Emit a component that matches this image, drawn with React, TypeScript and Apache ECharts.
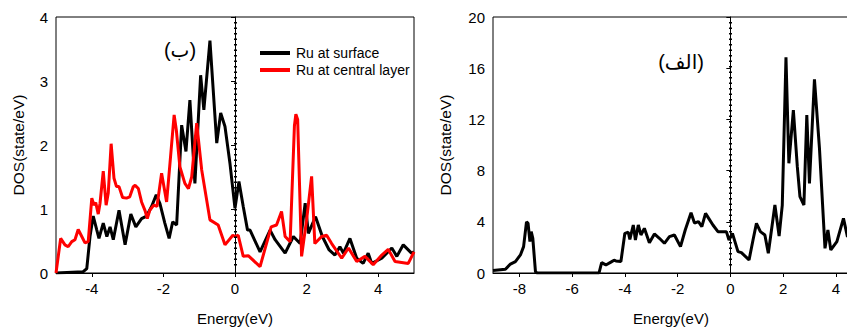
import React, { useEffect, useRef } from "react";
import * as echarts from "echarts";

// Left panel (ب): Ru DOS
const surfaceDOS: [number, number][] = [
  [-5, 0], [-4.24, 0.02], [-4.14, 0.07], [-4.05, 0.57], [-3.96, 0.89], [-3.86, 0.67], [-3.8, 0.54],
  [-3.68, 0.78], [-3.58, 0.57], [-3.49, 0.72], [-3.4, 0.52], [-3.24, 0.98], [-3.07, 0.44], [-2.91, 0.92],
  [-2.77, 0.72], [-2.61, 0.85], [-2.47, 0.89], [-2.33, 1.04], [-2.2, 1.22], [-2.1, 1.09], [-1.96, 0.78],
  [-1.84, 0.54], [-1.74, 0.8], [-1.63, 0.75], [-1.49, 2.31], [-1.37, 1.9], [-1.26, 2.7], [-1.12, 1.4],
  [-0.96, 3.09], [-0.87, 2.55], [-0.7, 3.63], [-0.51, 2.03], [-0.4, 2.5], [-0.28, 2.29], [-0.14, 1.71],
  [0.0, 1.01], [0.11, 1.43], [0.23, 1.04], [0.35, 0.67], [0.42, 0.67], [0.7, 0.33], [0.98, 0.67],
  [1.12, 0.52], [1.4, 0.31], [1.63, 0.57], [1.82, 0.46], [1.96, 1.09], [2.05, 0.62], [2.25, 0.88],
  [2.44, 0.57], [2.63, 0.36], [2.79, 0.28], [2.93, 0.41], [3.03, 0.31], [3.21, 0.54], [3.4, 0.23],
  [3.58, 0.15], [3.72, 0.31], [3.82, 0.15], [4.1, 0.23], [4.38, 0.39], [4.52, 0.26], [4.7, 0.44],
  [4.93, 0.31], [5.0, 0.33],
];

const centralDOS: [number, number][] = [
  [-5, 0], [-4.87, 0.54], [-4.75, 0.44], [-4.66, 0.41], [-4.56, 0.49], [-4.47, 0.52], [-4.38, 0.68],
  [-4.28, 0.57], [-4.19, 0.47], [-4.1, 0.49], [-4.0, 1.17], [-3.94, 1.06], [-3.89, 1.1], [-3.82, 0.92],
  [-3.77, 1.09], [-3.68, 1.59], [-3.6, 1.06], [-3.54, 1.25], [-3.46, 2.02], [-3.38, 1.48], [-3.31, 1.35],
  [-3.24, 1.35], [-3.14, 1.18], [-3.03, 1.17], [-2.94, 1.19], [-2.84, 1.35], [-2.79, 1.37], [-2.7, 1.32],
  [-2.61, 1.11], [-2.51, 0.97], [-2.45, 0.85], [-2.38, 0.98], [-2.27, 1.06], [-2.18, 1.04], [-2.05, 1.56],
  [-1.91, 1.11], [-1.8, 1.82], [-1.7, 2.47], [-1.64, 2.24], [-1.54, 1.66], [-1.4, 1.4], [-1.3, 1.32],
  [-1.21, 1.5], [-1.07, 2.34], [-0.93, 1.61], [-0.7, 0.83], [-0.47, 0.75], [-0.28, 0.44], [-0.06, 0.59],
  [0.0, 0.57], [0.09, 0.59], [0.23, 0.26], [0.37, 0.27], [0.7, 0.1], [1.01, 0.72], [1.16, 0.75],
  [1.3, 0.96], [1.4, 0.57], [1.54, 0.49], [1.66, 2.3], [1.7, 2.48], [1.75, 2.4], [1.86, 0.26],
  [2.0, 0.83], [2.14, 1.51], [2.23, 0.46], [2.42, 0.57], [2.56, 0.59], [2.7, 0.46], [2.98, 0.23],
  [3.17, 0.39], [3.4, 0.18], [3.63, 0.26], [3.86, 0.13], [4.1, 0.28], [4.28, 0.37], [4.47, 0.18],
  [4.84, 0.15], [5.0, 0.33],
];

// Right panel (الف)
const totalDOS: [number, number][] = [
  [-9, 0.2], [-8.53, 0.29], [-8.34, 0.7], [-8.15, 0.89], [-7.96, 1.41], [-7.84, 2.06], [-7.73, 4.0],
  [-7.67, 3.88], [-7.6, 2.45], [-7.55, 3.23], [-7.49, 2.71], [-7.39, 0.1], [-7.33, 0], [-4.98, 0],
  [-4.88, 0.81], [-4.72, 0.63], [-4.53, 0.85], [-4.41, 1.0], [-4.34, 0.94], [-4.15, 0.89], [-4.0, 3.1],
  [-3.87, 3.18], [-3.81, 2.63], [-3.68, 3.75], [-3.6, 2.58], [-3.49, 3.75], [-3.39, 2.97], [-3.26, 3.49],
  [-3.07, 2.37], [-2.88, 3.05], [-2.69, 2.71], [-2.5, 2.32], [-2.31, 2.84], [-2.12, 2.97], [-1.89, 2.06],
  [-1.71, 3.36], [-1.49, 4.71], [-1.36, 3.9], [-1.21, 4.01], [-1.08, 3.62], [-0.94, 4.66], [-0.82, 4.27],
  [-0.66, 3.75], [-0.47, 3.23], [-0.15, 3.23], [-0.05, 2.58], [0.08, 3.1], [0.29, 1.67], [0.42, 1.59],
  [0.71, 1.02], [0.86, 2.58], [0.99, 3.88], [1.14, 3.23], [1.31, 2.97], [1.44, 1.54], [1.69, 5.31],
  [1.85, 2.89], [1.97, 5.31], [2.11, 16.85], [2.22, 8.57], [2.39, 12.73], [2.54, 8.31], [2.64, 5.96],
  [2.79, 5.31], [2.9, 12.34], [3.0, 7.0], [3.19, 15.13], [3.38, 9.74], [3.59, 1.93], [3.7, 3.36],
  [3.81, 1.8], [4.04, 2.45], [4.29, 4.27], [4.44, 2.84], [4.5, 2.9],
];

const leftTicks = [-4, -2, 0, 2, 4];
const rightTicks = [-8, -6, -4, -2, 0, 2, 4];
const seriesNames = ["Ru at surface", "Ru at central layer"];
const panelTitles = ["(ب)", "(الف)"];
const axisTitles = { x: "Energy(eV)", y: "DOS(state/eV)" };

const FONT = "'Liberation Sans', Arial, 'DejaVu Sans', sans-serif";

export default function App() {
  const ref = useRef<HTMLDivElement>(null);
  useEffect(() => {
    if (!ref.current) return;
    const chart = echarts.init(ref.current, undefined, { renderer: "svg" });
    const axisCommonX = (gridIndex: number, min: number, max: number, ticks: number[]) => ({
      type: "value",
      gridIndex,
      min,
      max,
      name: axisTitles.x,
      nameLocation: "middle",
      nameGap: 37,
      nameTextStyle: { fontSize: 15, color: "#000", fontFamily: FONT, lineHeight: 16 },
      axisLine: { show: true, onZero: false, lineStyle: { color: "#000", width: 1 } },
      axisTick: { show: true, inside: false, length: 4, customValues: ticks, lineStyle: { color: "#000" } },
      axisLabel: { show: true, customValues: ticks, margin: 8, fontSize: 15, color: "#000", fontFamily: FONT },
      splitLine: { show: false },
    });
    const axisCommonY = (gridIndex: number, max: number, interval: number, nameGap: number) => ({
      type: "value",
      gridIndex,
      min: 0,
      max,
      interval,
      name: axisTitles.y,
      nameLocation: "middle",
      nameRotate: 90,
      nameGap,
      nameTextStyle: { fontSize: 15.5, color: "#000", fontFamily: FONT },
      axisLine: { show: true, lineStyle: { color: "#000", width: 1 } },
      axisTick: { show: true, inside: false, length: 4, lineStyle: { color: "#000" } },
      axisLabel: { margin: 8, fontSize: 15, color: "#000", fontFamily: FONT },
      splitLine: { show: false },
    });
    const dotted = (top: number, bottom: number) => ({
      silent: true,
      symbol: ["none", "none"],
      label: { show: false },
      lineStyle: { color: "#000", width: 3, type: [1.5, 4] },
      data: [[{ coord: [0, top] }, { coord: [0, bottom] }]],
    });
    chart.setOption({
      animation: false,
      backgroundColor: "#fff",
      grid: [
        { left: 56, top: 17, width: 358, height: 256, show: true, borderColor: "#000", borderWidth: 1, outerBoundsMode: "none", containLabel: false },
        { left: 493, top: 17, width: 356, height: 256, show: true, borderColor: "#000", borderWidth: 1, outerBoundsMode: "none", containLabel: false },
      ],
      xAxis: [axisCommonX(0, -5, 5, leftTicks), axisCommonX(1, -9, 4.5, rightTicks)],
      yAxis: [axisCommonY(0, 4, 1, 30), axisCommonY(1, 20, 4, 40)],
      legend: {
        data: seriesNames,
        orient: "vertical",
        left: 255,
        top: 41,
        itemWidth: 30,
        itemHeight: 4,
        itemGap: 3,
        icon: "rect",
        textStyle: { fontSize: 14, color: "#000", fontFamily: FONT, padding: [0, 0, 0, 1] },
      },
      graphic: [
        {
          type: "text",
          x: 180,
          y: 50,
          style: { text: panelTitles[0], fontSize: 20, fill: "#000", fontFamily: FONT, align: "center", verticalAlign: "middle" },
        },
        {
          type: "text",
          x: 681,
          y: 62,
          style: { text: panelTitles[1], fontSize: 20, fill: "#000", fontFamily: FONT, align: "center", verticalAlign: "middle" },
        },
      ],
      series: [
        {
          name: seriesNames[0],
          type: "line",
          xAxisIndex: 0,
          yAxisIndex: 0,
          data: surfaceDOS,
          showSymbol: false,
          color: "#000",
          lineStyle: { color: "#000", width: 3 },
          markLine: dotted(3.92, 0.08),
        },
        {
          name: seriesNames[1],
          type: "line",
          xAxisIndex: 0,
          yAxisIndex: 0,
          data: centralDOS,
          showSymbol: false,
          color: "#ff0000",
          lineStyle: { color: "#ff0000", width: 3 },
        },
        {
          name: "total",
          type: "line",
          xAxisIndex: 1,
          yAxisIndex: 1,
          data: totalDOS,
          showSymbol: false,
          color: "#000",
          lineStyle: { color: "#000", width: 3 },
          markLine: dotted(19.6, 0.4),
        },
      ],
    });
    return () => chart.dispose();
  }, []);
  return (
    <div
      ref={ref}
      style={{ position: "absolute", left: 0, top: 0, width: 847, height: 328, background: "#fff" }}
    />
  );
}
